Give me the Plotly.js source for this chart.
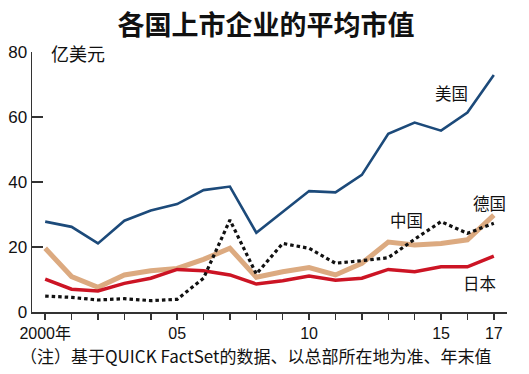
<!DOCTYPE html>
<html>
<head>
<meta charset="utf-8">
<script src="https://cdn.plot.ly/plotly-3.0.1.min.js"></script>
<style>
  html, body { margin: 0; padding: 0; background: #fff; }
  #chart { width: 529px; height: 374px; }
</style>
</head>
<body>
<div id="chart"></div>
<script>
// ---- data ----
const years = [2000, 2001, 2002, 2003, 2004, 2005, 2006, 2007, 2008, 2009, 2010, 2011, 2012, 2013, 2014, 2015, 2016, 2017];
const usa     = [27.8, 26.2, 21.1, 28.1, 31.2, 33.2, 37.5, 38.6, 24.4, 30.9, 37.2, 36.8, 42.2, 54.8, 58.3, 55.8, 61.4, 72.9];
const germany = [19.6, 10.9, 7.6, 11.4, 12.7, 13.4, 16.2, 19.6, 10.7, 12.4, 13.7, 11.4, 15.0, 21.5, 20.6, 21.1, 22.2, 29.8];
const japan   = [10.1, 7.0, 6.5, 8.8, 10.4, 13.1, 12.7, 11.4, 8.6, 9.6, 11.1, 9.8, 10.4, 13.1, 12.4, 13.9, 13.9, 17.2];
const china   = [4.9, 4.5, 3.7, 4.1, 3.5, 3.9, 10.4, 28.3, 11.7, 21.1, 19.6, 15.0, 15.8, 16.7, 22.4, 27.8, 24.2, 27.3];
const xTickVals = years;
const xTickText = ['2000年', '', '', '', '', '05', '', '', '', '', '10', '', '', '', '', '15', '', '17'];
const yTickVals = [0, 20, 40, 60, 80];
const titleText = '各国上市企业的平均市值';
const unitText = '亿美元';
const noteText = '（注）基于QUICK FactSet的数据、以总部所在地为准、年末值';
const labels = { usa: '美国', germany: '德国', china: '中国', japan: '日本' };

// ---- geometry ----
const W = 529, H = 374;
const M = { l: 32, r: 22, t: 52, b: 62 };
const xr = [1999.5, 2017.5], yr = [0, 80];
const pw = W - M.l - M.r, ph = H - M.t - M.b;
const px2x = p => xr[0] + (p - M.l) / pw * (xr[1] - xr[0]);
const py2y = p => yr[0] + (H - M.b - p) / ph * (yr[1] - yr[0]);
const pxPaper = p => (p - M.l) / pw;
const pyPaper = p => (H - M.b - p) / ph;

const cjk = '"Noto Sans CJK SC", "Noto Sans CJK JP", sans-serif';
const num = '"Liberation Sans", Arial, sans-serif';

const traces = [
  { x: years, y: germany, mode: 'lines', line: { color: '#dcaa80', width: 5 }, hoverinfo: 'skip' },
  { x: years, y: japan, mode: 'lines', line: { color: '#cc1424', width: 3.5 }, hoverinfo: 'skip' },
  { x: years, y: usa, mode: 'lines', line: { color: '#1c4a7a', width: 2.6 }, hoverinfo: 'skip' },
  { x: years, y: china, mode: 'lines', line: { color: '#111111', width: 3.2, dash: '3.5px,3px' }, hoverinfo: 'skip' }
];

const countryFont = { family: cjk, size: 16.5, color: '#111' };
const layout = {
  width: W, height: H,
  margin: M,
  paper_bgcolor: '#fff', plot_bgcolor: '#fff',
  showlegend: false,
  title: {
    text: '<b>' + titleText + '</b>',
    font: { family: cjk, size: 27, color: '#111' },
    x: 266 / W, xanchor: 'center', xref: 'container',
    y: 1 - 26 / H, yanchor: 'middle', yref: 'container'
  },
  xaxis: {
    range: xr, showgrid: false, zeroline: false,
    showline: true, linecolor: '#333', linewidth: 1.5,
    ticks: 'outside', ticklen: 6, tickwidth: 1.5, tickcolor: '#333',
    tickvals: xTickVals, ticktext: xTickText,
    tickfont: { family: '"Liberation Sans Narrow", ' + num + ', ' + cjk, size: 16, color: '#111' }
  },
  yaxis: {
    range: yr, showgrid: false, zeroline: false,
    showline: true, linecolor: '#333', linewidth: 1.5,
    ticks: 'inside', ticklen: 11, tickwidth: 1.5, tickcolor: '#333',
    tickvals: yTickVals,
    tickfont: { family: num, size: 17, color: '#111' }
  },
  annotations: [
    { text: unitText, xref: 'paper', yref: 'paper', x: pxPaper(49), y: pyPaper(53.5),
      xanchor: 'left', yanchor: 'middle', showarrow: false, font: { family: cjk, size: 18, color: '#111' } },
    { text: noteText, xref: 'paper', yref: 'paper', x: pxPaper(18), y: pyPaper(355),
      xanchor: 'left', yanchor: 'middle', showarrow: false, font: { family: cjk, size: 17, color: '#111' } },
    { text: labels.usa, x: px2x(451.5), y: py2y(92.5), xref: 'x', yref: 'y', showarrow: false,
      xanchor: 'center', yanchor: 'middle', font: countryFont },
    { text: labels.germany, x: px2x(489), y: py2y(202.5), xref: 'x', yref: 'y', showarrow: false,
      xanchor: 'center', yanchor: 'middle', font: countryFont },
    { text: labels.china, x: px2x(406), y: py2y(219.7), xref: 'x', yref: 'y', showarrow: false,
      xanchor: 'center', yanchor: 'middle', font: countryFont },
    { text: labels.japan, x: px2x(479), y: py2y(283.4), xref: 'x', yref: 'y', showarrow: false,
      xanchor: 'center', yanchor: 'middle', font: countryFont }
  ]
};

Plotly.newPlot('chart', traces, layout, { staticPlot: true, displayModeBar: false });
</script>
</body>
</html>
